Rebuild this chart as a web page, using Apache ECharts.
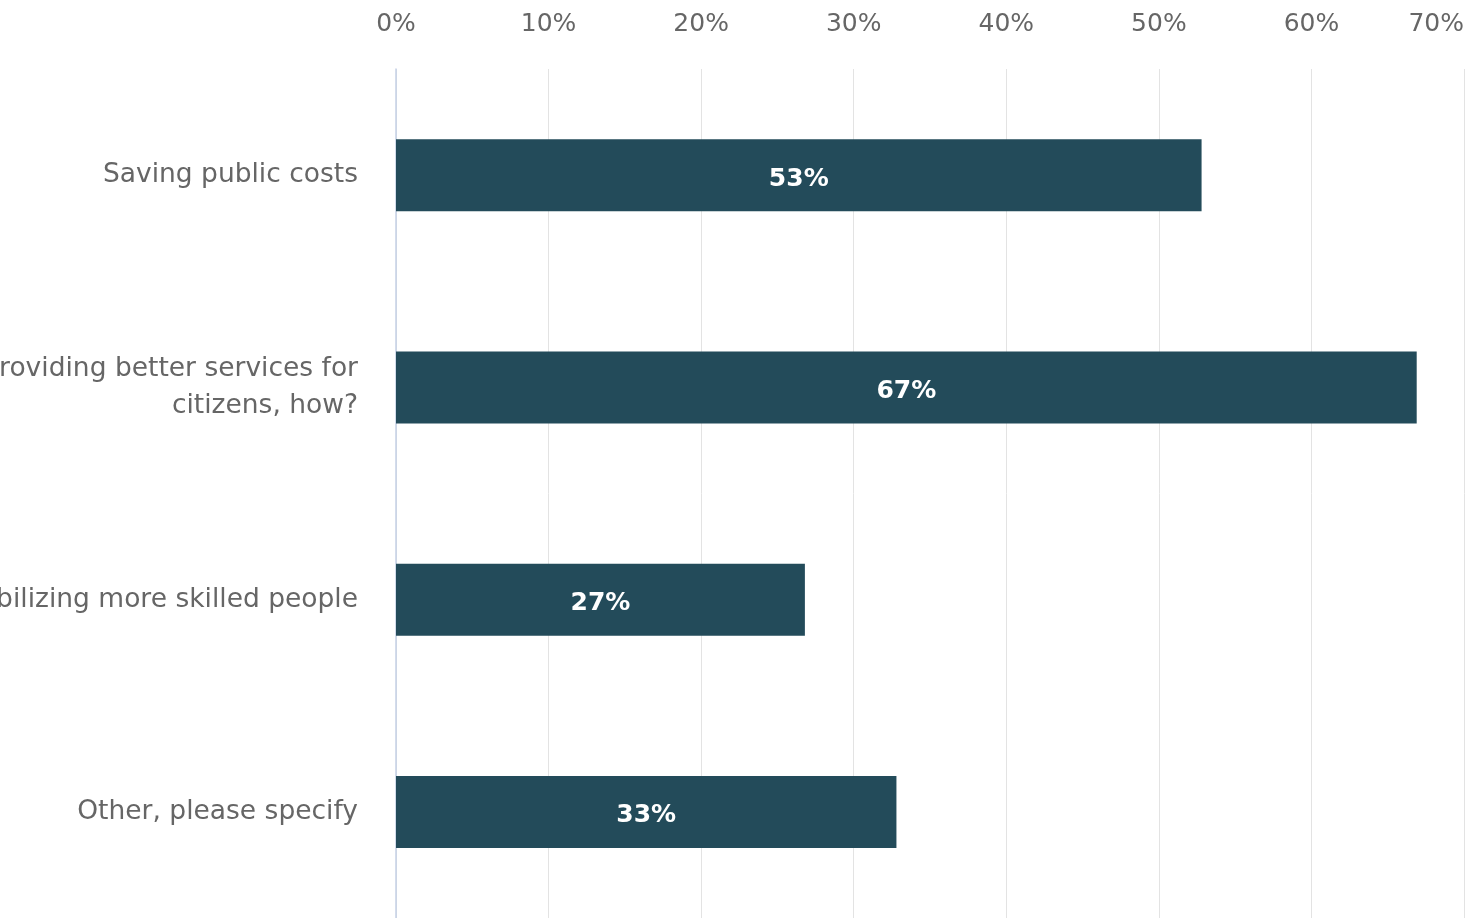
<!DOCTYPE html>
<html>
<head>
<meta charset="utf-8">
<script src="https://cdn.jsdelivr.net/npm/echarts@6/dist/echarts.min.js"></script>
<style>
html,body{margin:0;padding:0;background:#fff;}
#chart{width:1465px;height:918px;}
</style>
</head>
<body>
<div id="chart"></div>
<script>
const categories = [
  "Saving public costs",
  "Providing better services for\ncitizens, how?",
  "Mobilizing more skilled people",
  "Other, please specify"
];
const values = [52.8, 66.9, 26.8, 32.8];
const tickMax = 70;
const tickInterval = 10;

const chart = echarts.init(document.getElementById('chart'), null, {renderer: 'canvas'});
chart.setOption({
  animation: false,
  backgroundColor: '#ffffff',
  grid: {left: 396, right: 1, top: 69, bottom: 0, containLabel: false, outerBoundsMode: 'none'},
  xAxis: {
    type: 'value',
    position: 'top',
    min: 0,
    max: tickMax,
    interval: tickInterval,
    axisLine: {show: false},
    axisTick: {show: false},
    splitLine: {show: true, lineStyle: {color: '#e3e3e3', width: 1}},
    axisLabel: {
      formatter: '{value}%',
      color: '#666666',
      fontSize: 25,
      fontFamily: 'DejaVu Sans, sans-serif',
      margin: 32,
      alignMaxLabel: 'right'
    }
  },
  yAxis: {
    type: 'category',
    inverse: true,
    data: categories,
    axisLine: {show: true, lineStyle: {color: '#c5d0e6', width: 1.5}},
    axisTick: {show: false},
    splitLine: {show: false},
    axisLabel: {
      color: '#666666',
      fontSize: 26.5,
      lineHeight: 37,
      fontFamily: 'DejaVu Sans, sans-serif',
      margin: 38,
      align: 'right'
    }
  },
  series: [{
    type: 'bar',
    data: values,
    barWidth: 72,
    itemStyle: {color: '#234b5a'},
    label: {
      show: true,
      position: 'inside',
      offset: [0, 4],
      formatter: p => Math.round(p.value) + '%',
      color: '#ffffff',
      fontSize: 25,
      fontWeight: 'bold',
      fontFamily: 'DejaVu Sans, sans-serif'
    }
  }]
});
</script>
</body>
</html>
